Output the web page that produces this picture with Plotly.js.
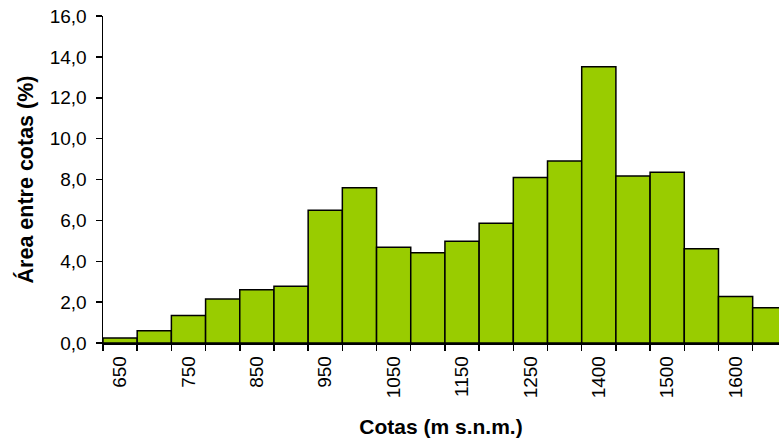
<!DOCTYPE html>
<html>
<head>
<meta charset="utf-8">
<script src="https://cdn.plot.ly/plotly-3.0.1.min.js"></script>
<style>
  html, body { margin: 0; padding: 0; background: #fff; }
  #chart { width: 779px; height: 440px; }
</style>
</head>
<body>
<div id="chart"></div>
<script>
// Elevation bands (m s.n.m.)
const cotas = ["650","700","750","800","850","900","950","1000","1050","1100",
               "1150","1200","1250","1300","1400","1450","1500","1550","1600","1650"];
// Area between contour lines (%)
const areaPct = [0.25, 0.60, 1.35, 2.15, 2.60, 2.78, 6.50, 7.60, 4.69, 4.41,
                 4.98, 5.86, 8.10, 8.90, 13.52, 8.17, 8.35, 4.61, 2.27, 1.73];
// Tick labels shown on the x axis (every other band)
const tickLabels = ["650","","750","","850","","950","","1050","",
                    "1150","","1250","","1400","","1500","","1600",""];
const yTicks = [0, 2, 4, 6, 8, 10, 12, 14, 16];

const FONT = '"Liberation Sans", Arial, sans-serif';

const trace = {
  type: 'bar',
  x: cotas,
  y: areaPct,
  marker: { color: '#99CC00', line: { color: '#000000', width: 1.5 } },
  hoverinfo: 'x+y'
};

const layout = {
  width: 779,
  height: 440,
  margin: { l: 103, r: 0, t: 16, b: 97 },
  paper_bgcolor: '#ffffff',
  plot_bgcolor: '#ffffff',
  separators: ',.',
  bargap: 0,
  showlegend: false,
  font: { family: FONT, color: '#000000', size: 19 },
  xaxis: {
    type: 'category',
    range: [-0.5, 19.27],
    tickmode: 'array',
    tickvals: cotas,
    ticktext: tickLabels,
    tickson: 'boundaries',
    tickangle: -90,
    ticks: 'outside',
    ticklen: 6,
    tickwidth: 1.5,
    tickcolor: '#000',
    ticklabelstandoff: 4,
    showline: true,
    linecolor: '#000',
    linewidth: 1.5,
    showgrid: false,
    zeroline: false,
    tickfont: { family: FONT, size: 19, color: '#000' },
    title: { text: '<b>Cotas (m s.n.m.)</b>', font: { family: FONT, size: 21, color: '#000' }, standoff: 22 },
    automargin: false,
    fixedrange: true
  },
  yaxis: {
    range: [0, 16],
    tickmode: 'array',
    tickvals: yTicks,
    tickformat: '.1f',
    ticks: 'outside',
    ticklen: 6,
    tickwidth: 1.5,
    tickcolor: '#000',
    ticklabelstandoff: 5,
    showline: true,
    linecolor: '#000',
    linewidth: 1.5,
    showgrid: false,
    zeroline: false,
    tickfont: { family: FONT, size: 19, color: '#000' },
    title: { text: '<b>Área entre cotas (%)</b>', font: { family: FONT, size: 21.5, color: '#000' }, standoff: 10 },
    automargin: false,
    fixedrange: true
  }
};

Plotly.newPlot('chart', [trace], layout, { displayModeBar: false, staticPlot: true });
</script>
</body>
</html>
